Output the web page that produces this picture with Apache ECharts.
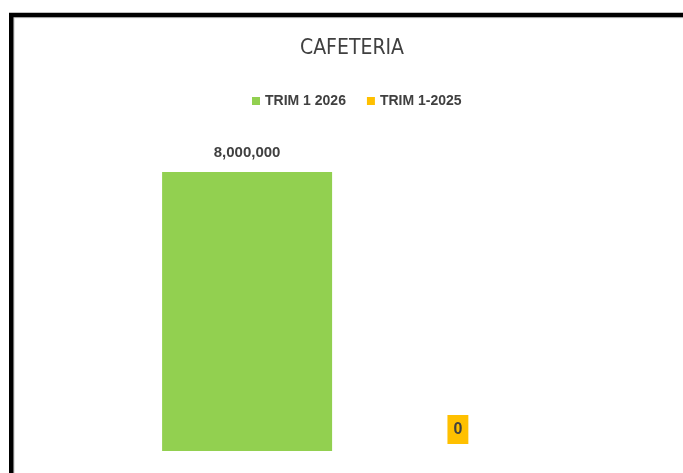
<!DOCTYPE html>
<html>
<head>
<meta charset="utf-8">
<script src="https://cdn.jsdelivr.net/npm/echarts@6/dist/echarts.min.js"></script>
<style>
  html, body { margin: 0; padding: 0; background: #fff; }
  #chart { width: 683px; height: 473px; }
</style>
</head>
<body>
<div id="chart"></div>
<script>
  // datos del grafico
  const categories = ['CAFETERIA']
  const seriesNames = ['TRIM 1 2026', 'TRIM 1-2025']
  const trim2026 = [8000000]
  const trim2025 = [0]

  const chart = echarts.init(document.getElementById('chart'))

  const fmt = (p) => Number(p.value).toLocaleString('en-US')

  chart.setOption({
    animation: false,
    color: ['#92D050', '#FFC000'],
    title: {
      text: 'CAFETERIA',
      left: 352,
      textAlign: 'center',
      top: 38,
      padding: 0,
      textStyle: {
        fontFamily: '"Liberation Sans Narrow", "DejaVu Sans Condensed", sans-serif',
        fontSize: 21,
        fontWeight: 500,
        color: '#404040'
      }
    },
    legend: {
      data: seriesNames,
      left: 247,
      top: 89,
      itemWidth: 8,
      itemHeight: 8,
      itemGap: 21,
      icon: 'rect',
      textStyle: {
        fontFamily: '"Liberation Sans", Arial, sans-serif',
        fontSize: 14,
        fontWeight: 'bold',
        color: '#404040'
      }
    },
    grid: {
      left: 22,
      right: 0,
      top: 172,
      bottom: 22
    },
    xAxis: {
      type: 'category',
      data: categories,
      axisLine: { show: false },
      axisTick: { show: false },
      axisLabel: { show: false }
    },
    yAxis: {
      type: 'value',
      min: 0,
      max: 8000000,
      show: false,
      splitLine: { show: false }
    },
    series: [{
      name: seriesNames[0],
      type: 'bar',
      data: trim2026,
      barWidth: 170,
      barGap: '24%',
      label: {
        show: true,
        position: 'top',
        distance: 12,
        formatter: fmt,
        fontFamily: '"Liberation Sans", Arial, sans-serif',
        fontSize: 15,
        fontWeight: 'bold',
        color: '#404040'
      }
    }, {
      name: seriesNames[1],
      type: 'bar',
      data: trim2025,
      barWidth: 170,
      label: {
        show: true,
        position: 'top',
        distance: 7,
        formatter: fmt,
        backgroundColor: '#FFC000',
        padding: [7, 6, 6, 6],
        fontFamily: '"Liberation Sans", Arial, sans-serif',
        fontSize: 16,
        fontWeight: 'bold',
        color: '#404040'
      }
    }],
    graphic: [{
      type: 'rect',
      silent: true,
      shape: { x: 14, y: 17.5, width: 900, height: 700 },
      style: { fill: null, stroke: '#d9d9d9', lineWidth: 1.5 }
    }, {
      type: 'rect',
      silent: true,
      shape: { x: 11.25, y: 15, width: 900, height: 700 },
      style: { fill: null, stroke: '#000', lineWidth: 4.5 }
    }]
  })
</script>
</body>
</html>
